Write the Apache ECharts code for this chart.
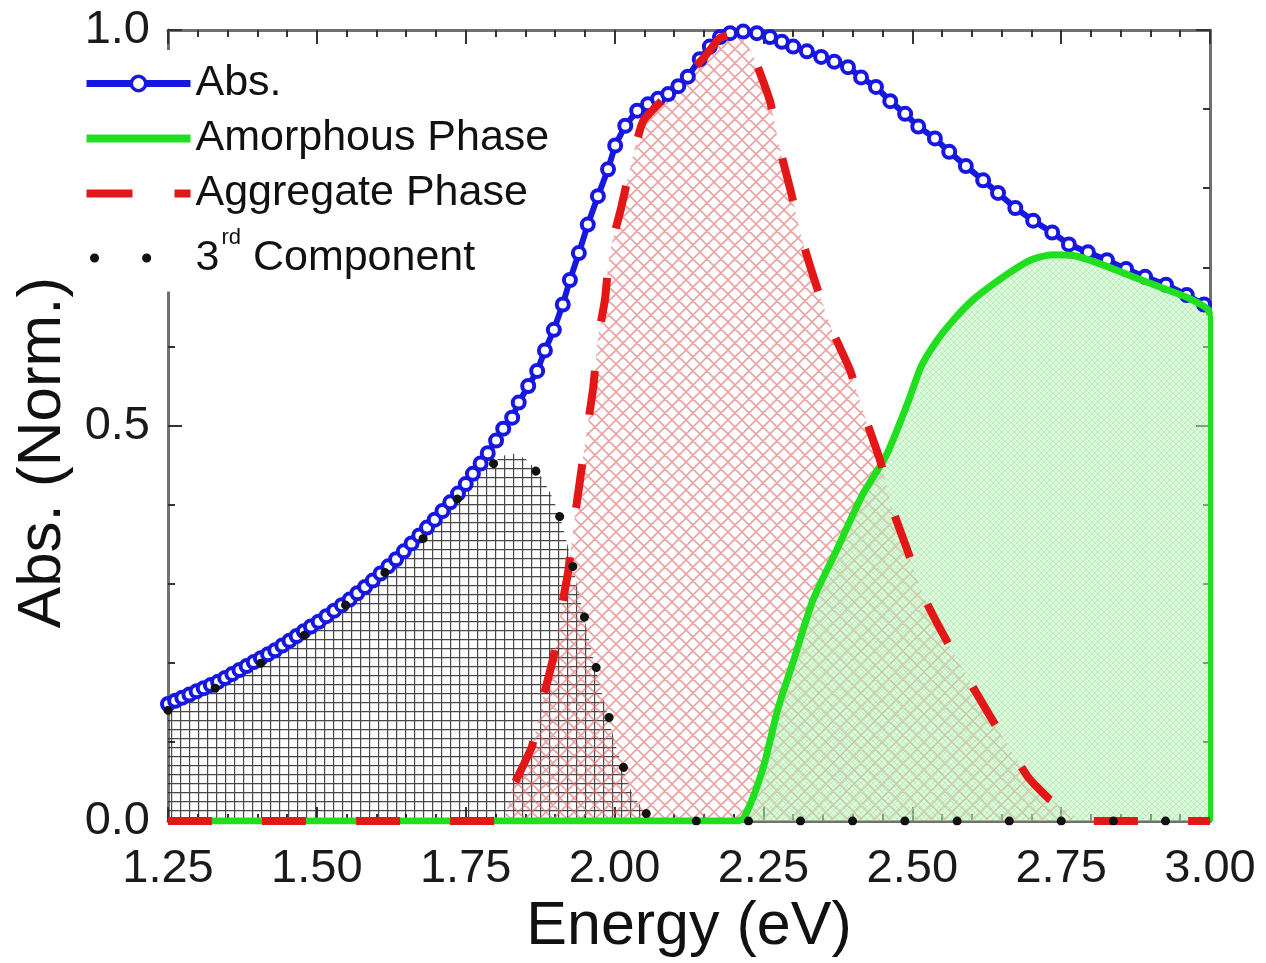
<!DOCTYPE html>
<html>
<head>
<meta charset="utf-8">
<script src="https://cdn.jsdelivr.net/npm/echarts@6/dist/echarts.min.js"></script>
<style>
  html, body { margin: 0; padding: 0; background: #ffffff; }
  #chart { width: 1266px; height: 963px; }
</style>
</head>
<body>
<div id="chart"></div>
<script>
// Measured absorbance (normalised) vs photon energy, [eV, value]
const absData = [
  [1.250,0.148],[1.262,0.152],[1.274,0.156],[1.286,0.160],[1.298,0.164],[1.310,0.168],
  [1.322,0.172],[1.334,0.176],[1.346,0.181],[1.358,0.186],[1.370,0.191],[1.382,0.196],
  [1.394,0.201],[1.406,0.206],[1.418,0.211],[1.430,0.216],[1.442,0.222],[1.454,0.228],
  [1.466,0.234],[1.478,0.240],[1.490,0.246],[1.503,0.252],[1.516,0.259],[1.529,0.266],
  [1.542,0.273],[1.555,0.280],[1.568,0.288],[1.581,0.296],[1.594,0.304],[1.607,0.313],
  [1.620,0.322],[1.633,0.331],[1.646,0.341],[1.659,0.351],[1.672,0.361],[1.685,0.371],
  [1.698,0.381],[1.711,0.392],[1.724,0.403],[1.737,0.414],[1.750,0.426],[1.762,0.439],
  [1.775,0.452],[1.787,0.465],[1.801,0.481],[1.813,0.496],[1.828,0.510],[1.839,0.529],
  [1.855,0.550],[1.870,0.569],[1.883,0.595],[1.898,0.621],[1.913,0.653],[1.925,0.684],
  [1.940,0.718],[1.955,0.754],[1.972,0.790],[1.989,0.824],[2.001,0.854],[2.018,0.879],
  [2.038,0.898],[2.056,0.906],[2.073,0.913],[2.090,0.919],[2.107,0.929],[2.123,0.941],
  [2.143,0.963],[2.160,0.979],[2.177,0.991],[2.194,0.996],[2.216,0.998],[2.239,0.996],
  [2.261,0.991],[2.281,0.985],[2.300,0.979],[2.323,0.973],[2.347,0.966],[2.369,0.960],
  [2.392,0.953],[2.414,0.940],[2.439,0.928],[2.463,0.910],[2.488,0.894],[2.510,0.878],
  [2.538,0.863],[2.562,0.846],[2.590,0.828],[2.619,0.810],[2.644,0.794],[2.673,0.775],
  [2.703,0.759],[2.735,0.744],[2.763,0.729],[2.795,0.719],[2.827,0.709],[2.859,0.698],
  [2.891,0.688],[2.926,0.678],[2.961,0.665],[2.990,0.653]
];

// Amorphous phase component
const amorphousData = [
  [1.250,0.000],[2.200,0.000],[2.217,0.004],[2.249,0.066],[2.274,0.141],[2.301,0.204],
  [2.333,0.279],[2.372,0.341],[2.416,0.412],[2.456,0.462],[2.494,0.532],[2.515,0.575],
  [2.540,0.606],[2.565,0.630],[2.602,0.659],[2.659,0.691],[2.698,0.709],[2.736,0.716],
  [2.770,0.715],[2.810,0.706],[2.861,0.691],[2.916,0.675],[2.961,0.662],[2.995,0.648],
  [3.000,0.640]
];

// Aggregate phase component
const aggregateData = [
  [1.250,0.000],[1.810,0.000],[1.828,0.041],[1.861,0.094],[1.880,0.156],[1.897,0.206],
  [1.910,0.266],[1.922,0.315],[1.932,0.378],[1.942,0.431],[1.954,0.496],[1.964,0.547],
  [1.972,0.609],[1.984,0.660],[1.992,0.719],[2.011,0.775],[2.029,0.835],[2.048,0.885],
  [2.085,0.915],[2.118,0.940],[2.150,0.965],[2.177,0.990],[2.203,0.995],[2.220,0.985],
  [2.236,0.962],[2.261,0.910],[2.278,0.849],[2.296,0.796],[2.315,0.735],[2.337,0.681],
  [2.365,0.621],[2.395,0.571],[2.421,0.510],[2.446,0.456],[2.466,0.396],[2.491,0.344],
  [2.521,0.281],[2.557,0.229],[2.602,0.169],[2.644,0.116],[2.694,0.056],[2.730,0.028],
  [2.763,0.012],[2.785,0.000],[3.000,0.000]
];

// Third spectral component
const thirdData = [
  [1.250,0.140],[1.330,0.168],[1.410,0.200],[1.490,0.238],[1.570,0.283],[1.656,0.343],
  [1.740,0.408],[1.790,0.450],[1.825,0.465],[1.850,0.458],[1.872,0.440],[1.892,0.415],
  [1.908,0.385],[1.922,0.346],[1.942,0.281],[1.962,0.213],[1.984,0.146],[2.009,0.078],
  [2.030,0.035],[2.056,0.008],[2.080,0.000],[3.000,0.000]
];

const xTicks = ['1.25', '1.50', '1.75', '2.00', '2.25', '2.50', '2.75', '3.00'];
const yTicks = ['0.0', '0.5', '1.0'];

// Hatch fills drawn into small repeating canvases
function tile(size, draw) {
  const c = document.createElement('canvas');
  c.width = size; c.height = size;
  draw(c.getContext('2d'), size);
  return c;
}
const squareGrid = tile(9, (g, s) => {
  g.strokeStyle = 'rgba(25,25,25,0.8)';
  g.lineWidth = 1.4;
  g.beginPath();
  g.moveTo(0, 0.5); g.lineTo(s, 0.5);
  g.moveTo(0.5, 0); g.lineTo(0.5, s);
  g.stroke();
});
function diagTile(size, stroke, width, bg) {
  return tile(size, (g, s) => {
    if (bg) { g.fillStyle = bg; g.fillRect(0, 0, s, s); }
    g.strokeStyle = stroke;
    g.lineWidth = width;
    g.beginPath();
    for (const o of [-s, 0, s]) {
      g.moveTo(o, 0); g.lineTo(o + s, s);
      g.moveTo(o + s, 0); g.lineTo(o, s);
    }
    g.stroke();
  });
}
const redHatch = diagTile(14, 'rgba(222,105,105,0.62)', 1.6, null);
const greenHatch = diagTile(6, 'rgba(120,205,120,0.28)', 1, 'rgba(190,245,190,0.55)');

const BLUE = '#1717e3';
const GREEN = '#1fdf1f';
const RED = '#e31717';
const BLACK = '#111111';

function fillSeries(id, data, image, z, smooth) {
  return {
    id: id, type: 'line', data: data, z: z, silent: true,
    symbol: 'none', smooth: smooth,
    lineStyle: { width: 0, opacity: 0 },
    areaStyle: { color: { image: image, repeat: 'repeat' }, opacity: 1 },
    tooltip: { show: false }
  };
}

const fontFam = "'Liberation Sans', Arial, sans-serif";
const axisGray = '#707070';

function xAxisCfg(pos, labels) {
  return {
    type: 'value', position: pos, min: 1.25, max: 3.0, interval: 0.25,
    axisLine: { show: true, onZero: false, lineStyle: { color: axisGray, width: 3 } },
    axisTick: { show: true, inside: true, length: 14, lineStyle: { color: '#333', width: 2 } },
    minorTick: { show: true, splitNumber: 5, length: 7, lineStyle: { color: '#333', width: 2 } },
    splitLine: { show: false },
    axisLabel: labels ? {
      show: true, fontSize: 47, color: '#1a1a1a', margin: 24, fontFamily: fontFam,
      formatter: v => xTicks[Math.round((v - 1.25) / 0.25)]
    } : { show: false }
  };
}
function yAxisCfg(pos, labels) {
  return {
    type: 'value', position: pos, min: 0, max: 1.0, interval: 0.5,
    axisLine: { show: true, onZero: false, lineStyle: { color: axisGray, width: 3 } },
    axisTick: { show: true, inside: true, length: 14, lineStyle: { color: '#333', width: 2 } },
    minorTick: { show: true, splitNumber: 5, length: 7, lineStyle: { color: '#333', width: 2 } },
    splitLine: { show: false },
    axisLabel: labels ? {
      show: true, fontSize: 47, color: '#1a1a1a', margin: 18, fontFamily: fontFam,
      formatter: v => yTicks[Math.round(v / 0.5)]
    } : { show: false }
  };
}

const xBottom = xAxisCfg('bottom', true);
xBottom.name = 'Energy (eV)';
xBottom.nameLocation = 'middle';
xBottom.nameGap = 68;
xBottom.nameTextStyle = { fontSize: 61, color: '#111', fontFamily: fontFam };

const yLeft = yAxisCfg('left', true);
yLeft.name = 'Abs. (Norm.)';
yLeft.nameLocation = 'middle';
yLeft.nameGap = 84;
yLeft.nameTextStyle = { fontSize: 62, color: '#111', fontFamily: fontFam, padding: [0, 54, 0, 0] };

const amorphousEnd = amorphousData[amorphousData.length - 1];

const chart = echarts.init(document.getElementById('chart'), null, { renderer: 'canvas' });
chart.setOption({
  animation: false,
  backgroundColor: '#ffffff',
  textStyle: { fontFamily: fontFam },
  grid: { left: 168, right: 56, top: 30, bottom: 133, containLabel: false },
  xAxis: [xBottom, xAxisCfg('top', false)],
  yAxis: [yLeft, yAxisCfg('right', false)],
  legend: {
    orient: 'vertical', left: 74, top: 50,
    backgroundColor: '#ffffff',
    padding: [12, 12, 12, 8],
    itemGap: 12, itemWidth: 104, itemHeight: 18,
    selectedMode: false,
    textStyle: {
      fontSize: 43, color: '#111', fontFamily: fontFam,
      rich: { sup: { fontSize: 22, padding: [0, 0, 40, 2], color: '#111' } }
    },
    formatter: name => name === '3rd Component' ? '3{sup|rd} Component' : name,
    data: [
      { name: 'Abs.', lineStyle: { width: 7, color: BLUE },
        itemStyle: { color: '#ffffff', borderColor: BLUE, borderWidth: 3.5 } },
      { name: 'Amorphous Phase', lineStyle: { width: 8 }, itemStyle: { opacity: 0 } },
      { name: 'Aggregate Phase', lineStyle: { width: 8, type: [46, 42] }, itemStyle: { opacity: 0 } },
      { name: '3rd Component', lineStyle: { width: 9, type: [0.1, 52], cap: 'round', dashOffset: -8 }, itemStyle: { opacity: 0 } }
    ]
  },
  series: [
    fillSeries('fill-third', thirdData, squareGrid, 1, 0.2),
    fillSeries('fill-aggregate', aggregateData, redHatch, 2, 0.15),
    fillSeries('fill-amorphous', amorphousData, greenHatch, 3, 0.25),
    {
      name: 'Abs.', type: 'line', data: absData, z: 5,
      symbol: 'circle', symbolSize: 12, showSymbol: true, showAllSymbol: true,
      lineStyle: { color: BLUE, width: 6 },
      itemStyle: { color: '#ffffff', borderColor: BLUE, borderWidth: 4 }
    },
    {
      name: 'Amorphous Phase', type: 'line', data: amorphousData, z: 6,
      symbol: 'none', smooth: 0.25,
      lineStyle: { color: GREEN, width: 7 },
      itemStyle: { color: GREEN },
      markLine: {
        silent: true, symbol: 'none', label: { show: false },
        lineStyle: { color: GREEN, width: 5, type: 'solid' },
        data: [[{ coord: [amorphousEnd[0], 0] }, { coord: amorphousEnd }]]
      }
    },
    {
      name: 'Aggregate Phase', type: 'line', data: aggregateData, z: 7,
      symbol: 'none', smooth: 0.15,
      lineStyle: { color: RED, width: 8, type: [44, 50], cap: 'butt' },
      itemStyle: { color: RED }
    },
    {
      name: '3rd Component', type: 'line', data: thirdData, z: 8,
      symbol: 'none', smooth: 0.2, smoothMonotone: 'x',
      lineStyle: { color: BLACK, width: 9, type: [0.1, 52], cap: 'round' },
      itemStyle: { color: BLACK }
    }
  ]
});
</script>
</body>
</html>
